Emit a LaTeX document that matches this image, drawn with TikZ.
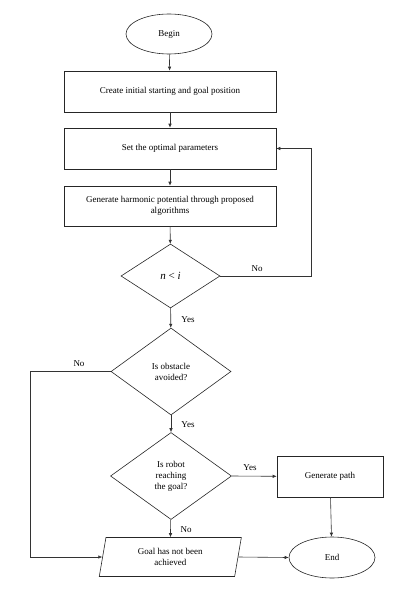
\documentclass[tikz,border=0pt]{standalone}
\usepackage{fontspec}
\setmainfont{Liberation Serif}
\usetikzlibrary{shapes.geometric,arrows.meta}
\begin{document}
\begin{tikzpicture}[x=1pt,y=-1pt,
  every node/.style={font=\fontsize{9}{11}\selectfont, inner sep=0pt, align=center},
  shp/.style={draw=black!85, line width=0.6pt},
  procbox/.style={shp, rectangle, minimum width=212pt, minimum height=41pt},
  oval/.style={shp, ellipse, minimum width=86pt, minimum height=40pt},
  decide/.style={shp, diamond},
  conn/.style={draw=black!80, line width=0.6pt, -{Latex[length=4pt,width=3.5pt]}},
  lbl/.style={font=\fontsize{9}{11}\selectfont}]
\useasboundingbox (0,0) rectangle (409,591);
\node[oval] (begin) at (169,34) {Begin};
\node[procbox] (b1) at (170,91.5) {Create initial starting and goal position};
\node[procbox] (b2) at (170,148.5) {Set the optimal parameters};
\node[procbox, minimum height=40pt] (b3) at (170,206) {Generate harmonic potential through proposed\\algorithms};
\node[decide, minimum width=99pt, minimum height=64pt] (d1) at (170.5,276) {\fontsize{11}{13}\selectfont\itshape n\/ \upshape< \itshape i};
\node[decide, minimum width=120pt, minimum height=87pt] (d2) at (171,371.5) {Is obstacle\\avoided?};
\node[decide, minimum width=121pt, minimum height=87pt] (d3) at (171,476) {Is robot\\reaching\\the goal?};
\node[shp, rectangle, minimum width=106pt, minimum height=41pt] (gp) at (330,476.3) {Generate path};
\node[shp, trapezium, trapezium left angle=79, trapezium right angle=101, trapezium stretches=true, minimum width=143pt, minimum height=39pt] (goal) at (170.3,557) {Goal has not been\\achieved};
\node[oval, minimum height=41pt] (end) at (332,557.5) {End};
\coordinate (r1) at (311,276);
\coordinate (l1) at (30.7,371.5);
\draw[conn] (begin) -- (b1);
\draw[conn] (b1) -- (b2);
\draw[conn] (b2) -- (b3);
\draw[conn] (b3) -- (d1);
\draw[conn] (d1.east) -- (r1) |- (b2.east);
\draw[conn] (d1) -- (d2);
\draw[conn] (d2) -- (d3);
\draw[conn] (d3.east) -- (gp.west);
\draw[conn] (d3) -- (goal);
\draw[conn] (d2.west) -- (l1) |- (goal.west);
\draw[conn] (goal.east) -- (end.west);
\draw[conn] (gp) -- (end);
\node[lbl] (no1) at (257,269) {No};
\node[lbl] (yes1) at (188,320) {Yes};
\node[lbl] (no2) at (79,364) {No};
\node[lbl] (yes2) at (188,425) {Yes};
\node[lbl] (yes3) at (250,468) {Yes};
\node[lbl] (no3) at (186,530) {No};
\end{tikzpicture}
\end{document}
